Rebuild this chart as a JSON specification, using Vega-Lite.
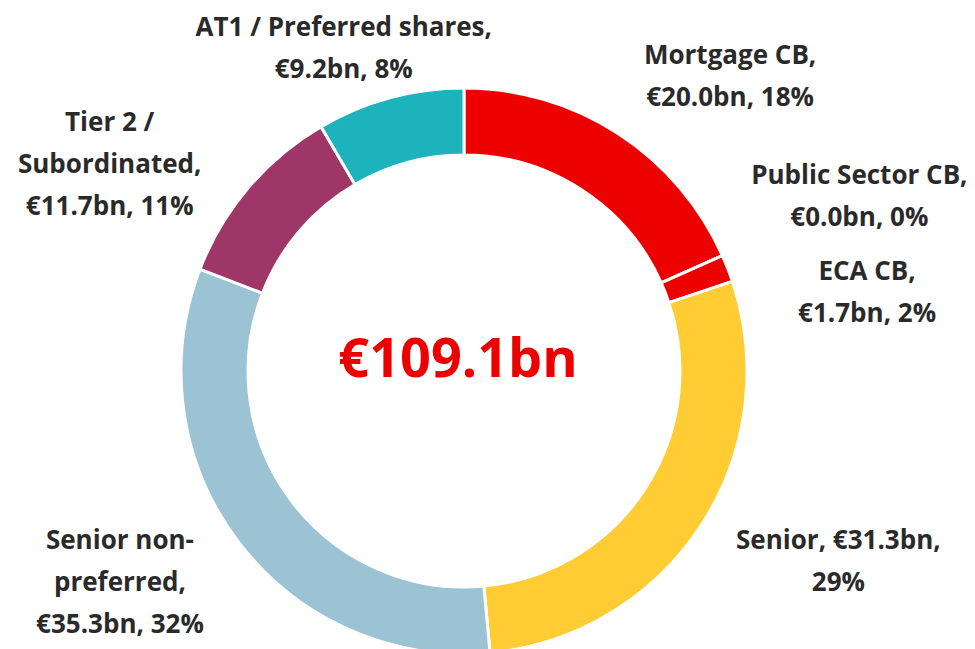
{
  "$schema": "https://vega.github.io/schema/vega-lite/v6.json",
  "width": 928,
  "height": 556,
  "autosize": "none",
  "padding": {"left": 0, "top": 93, "right": 47, "bottom": 0},
  "background": "white",
  "config": {"view": {"stroke": null}, "text": {"font": "Open Sans"}},
  "data": {
    "values": [
      {"segment": "Mortgage CB", "value": 20.0, "order": 1, "label": "Mortgage CB,\n€20.0bn, 18%"},
      {"segment": "Public Sector CB", "value": 0.0, "order": 2, "label": "Public Sector CB,\n€0.0bn, 0%"},
      {"segment": "ECA CB", "value": 1.7, "order": 3, "label": "ECA CB,\n€1.7bn, 2%"},
      {"segment": "Senior", "value": 31.3, "order": 4, "label": "Senior, €31.3bn,\n29%"},
      {"segment": "Senior non-preferred", "value": 35.3, "order": 5, "label": "Senior non-\npreferred,\n€35.3bn, 32%"},
      {"segment": "Tier 2 / Subordinated", "value": 11.7, "order": 6, "label": "Tier 2 /\nSubordinated,\n€11.7bn, 11%"},
      {"segment": "AT1 / Preferred shares", "value": 9.2, "order": 7, "label": "AT1 / Preferred shares,\n€9.2bn, 8%"}
    ]
  },
  "encoding": {
    "theta": {"field": "value", "type": "quantitative", "stack": true},
    "order": {"field": "order", "type": "quantitative"}
  },
  "layer": [
    {
      "mark": {"type": "arc", "outerRadius": 283, "innerRadius": 216, "stroke": "white", "strokeWidth": 3},
      "encoding": {
        "color": {
          "field": "segment",
          "type": "nominal",
          "legend": null,
          "scale": {
            "domain": ["Mortgage CB", "Public Sector CB", "ECA CB", "Senior", "Senior non-preferred", "Tier 2 / Subordinated", "AT1 / Preferred shares"],
            "range": ["#EC0000", "#EC0000", "#EC0000", "#FFCC33", "#9BC3D3", "#9E3667", "#1DB3BC"]
          }
        }
      }
    },
    {
      "mark": {"type": "text", "radius": 410, "dx": 43, "dy": 29, "fontSize": 26, "fontWeight": "bold", "color": "#2A2A2A", "lineBreak": "\n", "lineHeight": 42},
      "encoding": {"text": {"condition": {"test": "datum.segment === 'Mortgage CB'", "field": "label"}, "value": ""}}
    },
    {
      "mark": {"type": "text", "radius": 410, "dx": 21, "dy": -28, "fontSize": 26, "fontWeight": "bold", "color": "#2A2A2A", "lineBreak": "\n", "lineHeight": 42},
      "encoding": {"text": {"condition": {"test": "datum.segment === 'Public Sector CB'", "field": "label"}, "value": ""}}
    },
    {
      "mark": {"type": "text", "radius": 410, "dx": 21, "dy": 50, "fontSize": 26, "fontWeight": "bold", "color": "#2A2A2A", "lineBreak": "\n", "lineHeight": 42},
      "encoding": {"text": {"condition": {"test": "datum.segment === 'ECA CB'", "field": "label"}, "value": ""}}
    },
    {
      "mark": {"type": "text", "radius": 410, "dx": 31, "dy": -54, "fontSize": 26, "fontWeight": "bold", "color": "#2A2A2A", "lineBreak": "\n", "lineHeight": 42},
      "encoding": {"text": {"condition": {"test": "datum.segment === 'Senior'", "field": "label"}, "value": ""}}
    },
    {
      "mark": {"type": "text", "radius": 410, "dx": -17, "dy": -77, "fontSize": 26, "fontWeight": "bold", "color": "#2A2A2A", "lineBreak": "\n", "lineHeight": 42},
      "encoding": {"text": {"condition": {"test": "datum.segment === 'Senior non-preferred'", "field": "label"}, "value": ""}}
    },
    {
      "mark": {"type": "text", "radius": 410, "dx": -42, "dy": 18, "fontSize": 26, "fontWeight": "bold", "color": "#2A2A2A", "lineBreak": "\n", "lineHeight": 42},
      "encoding": {"text": {"condition": {"test": "datum.segment === 'Tier 2 / Subordinated'", "field": "label"}, "value": ""}}
    },
    {
      "mark": {"type": "text", "radius": 410, "dx": -13, "dy": 53, "fontSize": 26, "fontWeight": "bold", "color": "#2A2A2A", "lineBreak": "\n", "lineHeight": 42},
      "encoding": {"text": {"condition": {"test": "datum.segment === 'AT1 / Preferred shares'", "field": "label"}, "value": ""}}
    },
    {
      "data": {"values": [{"total": "€109.1bn"}]},
      "mark": {"type": "text", "fontSize": 54, "fontWeight": "bold", "color": "#EC0000", "dx": -6, "dy": -10},
      "encoding": {"text": {"field": "total", "type": "nominal"}, "theta": null, "order": null}
    }
  ]
}
